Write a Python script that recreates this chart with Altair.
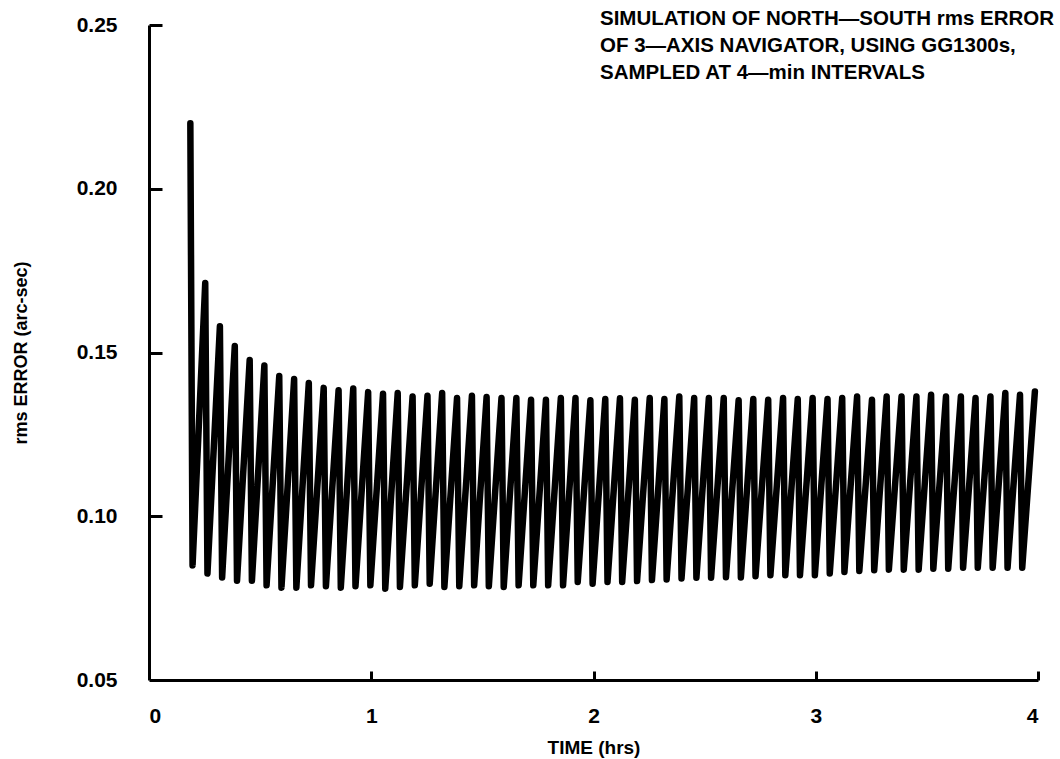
import altair as alt
import pandas as pd

# Peak (just before each 4-min update) times in hours and values (arc-sec)
peak_t = [0.186, 0.253, 0.319, 0.386, 0.453, 0.519, 0.586, 0.653, 0.719, 0.786,
          0.853, 0.919, 0.986, 1.053, 1.119, 1.186, 1.253, 1.319, 1.386, 1.453,
          1.519, 1.586, 1.653, 1.719, 1.786, 1.853, 1.919, 1.986, 2.053, 2.119,
          2.186, 2.253, 2.319, 2.386, 2.453, 2.519, 2.586, 2.653, 2.719, 2.786,
          2.853, 2.919, 2.986, 3.053, 3.119, 3.186, 3.253, 3.319, 3.386, 3.453,
          3.519, 3.586, 3.653, 3.719, 3.786, 3.853, 3.919, 3.986]
peak_v = [0.2200, 0.1712, 0.1580, 0.1520, 0.1477, 0.1460, 0.1428, 0.1419, 0.1407, 0.1392,
          0.1385, 0.1390, 0.1379, 0.1374, 0.1376, 0.1366, 0.1368, 0.1376, 0.1361, 0.1368,
          0.1364, 0.1361, 0.1361, 0.1356, 0.1356, 0.1361, 0.1361, 0.1354, 0.1358, 0.1360,
          0.1356, 0.1361, 0.1358, 0.1366, 0.1361, 0.1361, 0.1361, 0.1354, 0.1358, 0.1356,
          0.1361, 0.1358, 0.1361, 0.1358, 0.1361, 0.1366, 0.1356, 0.1366, 0.1366, 0.1366,
          0.1371, 0.1366, 0.1366, 0.1361, 0.1366, 0.1376, 0.1371, 0.1381]

# Trough (just after each update) times in hours and values (arc-sec)
trough_t = [0.196, 0.263, 0.329, 0.396, 0.463, 0.529, 0.596, 0.663, 0.729, 0.796,
            0.863, 0.929, 0.996, 1.063, 1.129, 1.196, 1.263, 1.329, 1.396, 1.463,
            1.529, 1.596, 1.663, 1.729, 1.796, 1.863, 1.929, 1.996, 2.063, 2.129,
            2.196, 2.263, 2.329, 2.396, 2.463, 2.529, 2.596, 2.663, 2.729, 2.796,
            2.863, 2.929, 2.996, 3.063, 3.129, 3.196, 3.263, 3.329, 3.396, 3.463,
            3.529, 3.596, 3.663, 3.729, 3.796, 3.863, 3.929]
trough_v = [0.0850, 0.0825, 0.0813, 0.0803, 0.0803, 0.0789, 0.0782, 0.0782, 0.0789, 0.0786,
            0.0782, 0.0786, 0.0789, 0.0779, 0.0784, 0.0789, 0.0794, 0.0784, 0.0786, 0.0789,
            0.0786, 0.0784, 0.0789, 0.0789, 0.0789, 0.0789, 0.0799, 0.0794, 0.0799, 0.0799,
            0.0802, 0.0805, 0.0807, 0.0810, 0.0812, 0.0812, 0.0814, 0.0813, 0.0817, 0.0820,
            0.0820, 0.0820, 0.0820, 0.0825, 0.0830, 0.0833, 0.0835, 0.0837, 0.0837, 0.0837,
            0.0840, 0.0840, 0.0843, 0.0843, 0.0843, 0.0843, 0.0843]

x_ticks = [0, 1, 2, 3, 4]
x_inner_ticks = [1, 2, 3, 4]
y_ticks = [0.05, 0.10, 0.15, 0.20, 0.25]
y_inner_ticks = [0.10, 0.15, 0.20, 0.25]

annotation = ["SIMULATION OF NORTH\u2014SOUTH rms ERROR",
              "OF 3\u2014AXIS NAVIGATOR, USING GG1300s,",
              "SAMPLED AT 4\u2014min INTERVALS"]

times = []
values = []
for i in range(len(peak_t)):
    times.append(peak_t[i]); values.append(peak_v[i])
    if i < len(trough_t):
        times.append(trough_t[i]); values.append(trough_v[i])
df = pd.DataFrame({"t": times, "v": values})

FONT = "Liberation Sans, Arial, sans-serif"
W, H = 889, 655

xscale = alt.Scale(domain=[0, 4], nice=False, zero=False)
yscale = alt.Scale(domain=[0.05, 0.25], nice=False, zero=False)

line = alt.Chart(df).mark_line(color="black", strokeWidth=6.5, strokeCap="round",
                               strokeJoin="round").encode(
    x=alt.X("t:Q", scale=xscale, title="TIME (hrs)",
            axis=alt.Axis(values=x_ticks, format="d", ticks=False, tickSize=0, grid=False,
                          domainColor="black", domainWidth=3, labelFont=FONT,
                          labelFontSize=21, labelFontWeight="bold", labelColor="black",
                          labelPadding=25, titleFont=FONT, titleFontSize=19,
                          titleFontWeight="bold", titleColor="black", titlePadding=12)),
    y=alt.Y("v:Q", scale=yscale, title="rms ERROR (arc-sec)",
            axis=alt.Axis(values=y_ticks, format=".2f", ticks=False, tickSize=0, grid=False,
                          domainColor="black", domainWidth=3, labelFont=FONT,
                          labelFontSize=21, labelFontWeight="bold", labelColor="black",
                          labelPadding=32, titleFont=FONT, titleFontSize=18,
                          titleFontWeight="bold", titleColor="black", titlePadding=46)),
    order="t:Q",
)

inner = alt.Chart(df).mark_line(opacity=0).encode(
    x=alt.X("t:Q", scale=xscale, title=None,
            axis=alt.Axis(orient="top", offset=-H, values=x_inner_ticks, labels=False,
                          domain=False, grid=False, tickSize=9, tickWidth=3,
                          tickColor="black", title=None)),
    y=alt.Y("v:Q", scale=yscale, title=None,
            axis=alt.Axis(orient="right", offset=-W, values=y_inner_ticks, labels=False,
                          domain=False, grid=False, tickSize=13, tickWidth=3,
                          tickColor="black", title=None)),
)

note = alt.Chart(df.head(1)).mark_text(
    text=annotation, align="left", baseline="alphabetic", font=FONT, fontSize=20.5,
    fontWeight="bold", color="black", lineHeight=27).encode(
    x=alt.value(451), y=alt.value(0))

chart = alt.layer(line, inner, note).resolve_axis(x="independent", y="independent").properties(
    width=W, height=H,
    autosize=alt.AutoSizeParams(type="none"),
    padding={"left": 149, "top": 25, "right": 22, "bottom": 79},
    background="white",
).configure_view(strokeWidth=0)

chart.save("out.html", embed_options={"renderer": "svg", "actions": False})
